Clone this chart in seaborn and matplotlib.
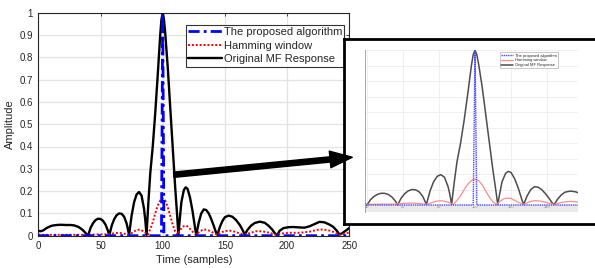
import numpy as np
import pandas as pd
import matplotlib
matplotlib.use("Agg")
import matplotlib.pyplot as plt
from matplotlib.patches import FancyArrowPatch
import seaborn as sns

# ---------------- data ----------------
t_mf = [0, 2, 4, 6, 8, 10, 12, 15, 18, 22, 26, 29, 32, 34, 36, 38, 40,
        42, 44, 46, 48, 50, 52, 54, 56, 57,
        59, 61, 63, 65, 67, 69, 71, 73,
        75, 77, 79, 81, 83, 85, 86, 87,
        88.5, 90, 92, 94, 96, 98, 99, 100, 101, 102, 104, 106, 108, 110, 111.5, 112.6,
        114, 115, 117, 118.5, 120, 122, 124, 126, 127,
        129, 131, 133, 135, 137, 139, 141, 143, 144,
        146, 148, 150, 153, 156, 159, 162, 164, 166,
        168, 171, 174, 178, 182, 185, 188, 190, 192,
        194, 197, 201, 205, 210, 214, 218, 222, 226, 230, 234, 237, 240, 242,
        244, 246, 248, 250]
v_mf = [0.022, 0.020, 0.024, 0.032, 0.038, 0.043, 0.046, 0.048, 0.049, 0.048, 0.048, 0.046, 0.040, 0.033, 0.024, 0.012, 0.000,
        0.035, 0.056, 0.070, 0.076, 0.075, 0.067, 0.050, 0.022, 0.000,
        0.045, 0.074, 0.092, 0.100, 0.098, 0.085, 0.055, 0.004,
        0.090, 0.150, 0.185, 0.196, 0.180, 0.120, 0.070, 0.004,
        0.150, 0.280, 0.400, 0.550, 0.720, 0.900, 0.970, 1.000, 0.970, 0.910, 0.760, 0.580, 0.400, 0.220, 0.100, 0.004,
        0.090, 0.150, 0.205, 0.217, 0.210, 0.170, 0.110, 0.035, 0.004,
        0.060, 0.100, 0.118, 0.115, 0.100, 0.075, 0.045, 0.012, 0.004,
        0.040, 0.066, 0.083, 0.090, 0.085, 0.070, 0.048, 0.028, 0.005,
        0.025, 0.045, 0.057, 0.063, 0.058, 0.045, 0.028, 0.012, 0.002,
        0.022, 0.034, 0.038, 0.039, 0.037, 0.036, 0.042, 0.052, 0.062, 0.060, 0.050, 0.040, 0.022, 0.006,
        0.010, 0.018, 0.026, 0.035]

t_ham = [0, 20, 40, 50, 55, 58, 62, 66, 70, 73, 76, 79, 82, 85, 88,
         90, 92, 94, 96, 98, 100, 102, 104, 106, 108, 110, 112,
         114, 116, 118, 120, 122, 124, 127, 130, 133, 136, 139, 144,
         148, 153, 158, 162, 166, 170, 175, 180, 185, 191,
         196, 202, 210, 218, 224, 229, 235, 240, 243, 247, 250]
v_ham = [0.004, 0.004, 0.004, 0.006, 0.006, 0.008, 0.012, 0.012, 0.008, 0.004, 0.015, 0.026, 0.027, 0.018, 0.004,
         0.030, 0.060, 0.100, 0.135, 0.158, 0.167, 0.158, 0.130, 0.090, 0.050, 0.020, 0.004,
         0.025, 0.040, 0.045, 0.042, 0.030, 0.018, 0.004, 0.020, 0.028, 0.026, 0.018, 0.004,
         0.017, 0.024, 0.018, 0.010, 0.004, 0.012, 0.020, 0.020, 0.014, 0.004,
         0.010, 0.013, 0.013, 0.018, 0.026, 0.028, 0.022, 0.010, 0.004, 0.010, 0.015]

t_prop = [0, 99, 100, 101, 250]
v_prop = [0.0, 0.0, 1.0, 0.0, 0.0]

labels = ["The proposed algorithm", "Hamming window", "Original MF Response"]
x_ticks = [0, 50, 100, 150, 200, 250]
y_ticks = [0, 0.1, 0.2, 0.3, 0.4, 0.5, 0.6, 0.7, 0.8, 0.9, 1.0]
y_ticklabels = ["0", "0.1", "0.2", "0.3", "0.4", "0.5", "0.6", "0.7", "0.8", "0.9", "1"]
inset_xticks = [40, 60, 80, 100, 120, 140]

# ---------------- style ----------------
sns.set_theme(style="white")
plt.rcParams["font.family"] = ["Liberation Sans", "DejaVu Sans"]

fig = plt.figure(figsize=(5.95, 2.68), dpi=100)

# ---------------- main axes ----------------
ax = fig.add_axes([38.3 / 595, 1 - 235.7 / 268, 311 / 595, 223 / 268])
sns.lineplot(x=t_prop, y=v_prop, ax=ax, color="#0000ff", linewidth=2.0,
             linestyle=(0, (4, 1.5, 1, 1.5)), label=labels[0], zorder=5)
sns.lineplot(x=t_ham, y=v_ham, ax=ax, color="#ff0000", linewidth=1.4,
             linestyle=(0, (1, 1)), label=labels[1], zorder=4)
sns.lineplot(x=t_mf, y=v_mf, ax=ax, color="black", linewidth=1.7,
             label=labels[2], zorder=3)
ax.set_xlim(0, 250)
ax.set_ylim(0, 1)
ax.set_xticks(x_ticks)
ax.set_yticks(y_ticks)
ax.set_yticklabels(y_ticklabels)
ax.grid(True, color="#e3e3e3", linewidth=0.9)
ax.tick_params(axis="both", labelsize=7, colors="#262626", direction="in",
               length=2, width=0.6, pad=4, top=True, right=True)
for s in ax.spines.values():
    s.set_color("#262626")
    s.set_linewidth(0.8)
ax.set_xlabel("Time (samples)", fontsize=8, color="#262626", labelpad=3)
ax.set_ylabel("Amplitude", fontsize=8, color="#262626", labelpad=3)
leg = ax.legend(loc="upper left", bbox_to_anchor=(0.475, 0.945), fontsize=8.0,
                frameon=True, fancybox=False, edgecolor="black",
                handlelength=3.0, handletextpad=0.2, borderpad=0.2,
                labelspacing=0.32, borderaxespad=0)
leg.get_frame().set_linewidth(0.8)

# ---------------- inset frame ----------------
frame = fig.add_axes([344 / 595, 1 - 224 / 268, 262 / 595, 185 / 268])
frame.set_facecolor("white")
frame.set_xticks([])
frame.set_yticks([])
for s in frame.spines.values():
    s.set_color("black")
    s.set_linewidth(2.0)

# ---------------- inset plot ----------------
ins = fig.add_axes([365 / 595, 1 - 212 / 268, 213 / 595, 162 / 268])
ins.set_facecolor("white")
ins.axhspan(-0.045, 0, color="#e9e9e9", zorder=0, linewidth=0)
sns.lineplot(x=t_prop, y=v_prop, ax=ins, color="#4a4aff", linewidth=1.0,
             linestyle=(0, (1, 0.6)), label=labels[0], zorder=5)
sns.lineplot(x=t_ham, y=v_ham, ax=ins, color="#ff8c8c", linewidth=0.9,
             label=labels[1], zorder=4)
sns.lineplot(x=t_mf, y=v_mf, ax=ins, color="#4d4d4d", linewidth=1.1,
             label=labels[2], zorder=3)
ins.set_xlim(38.9, 157.2)
ins.set_ylim(-0.045, 1.0)
ins.set_xticks(inset_xticks)
ins.set_yticks(y_ticks)
ins.set_yticklabels([])
ins.grid(True, color="#eeeeee", linewidth=0.6)
ins.tick_params(axis="x", labelsize=2.8, colors="#888888", length=0, pad=-5)
ins.tick_params(axis="y", length=1.5, width=0.4, colors="#aaaaaa", direction="in")
for name, s in ins.spines.items():
    if name == "left":
        s.set_color("#999999")
        s.set_linewidth(0.6)
    else:
        s.set_visible(False)
ins.set_xlabel("")
ins.set_ylabel("")
ileg = ins.legend(loc="upper left", bbox_to_anchor=(0.634, 0.985), fontsize=2.9,
                  frameon=True, fancybox=False, edgecolor="#888888",
                  handlelength=3.0, handletextpad=0.3, borderpad=0.3,
                  labelspacing=0.2, borderaxespad=0)
ileg.get_frame().set_linewidth(0.4)

# ---------------- arrow ----------------
arrow = FancyArrowPatch((171 / 595, 1 - 175 / 268), (355 / 595, 1 - 157 / 268),
                        transform=fig.transFigure,
                        arrowstyle="simple,head_length=16,head_width=12,tail_width=3.8",
                        mutation_scale=1, color="black", zorder=10)
fig.add_artist(arrow)

fig.savefig("out.png", dpi=100)
